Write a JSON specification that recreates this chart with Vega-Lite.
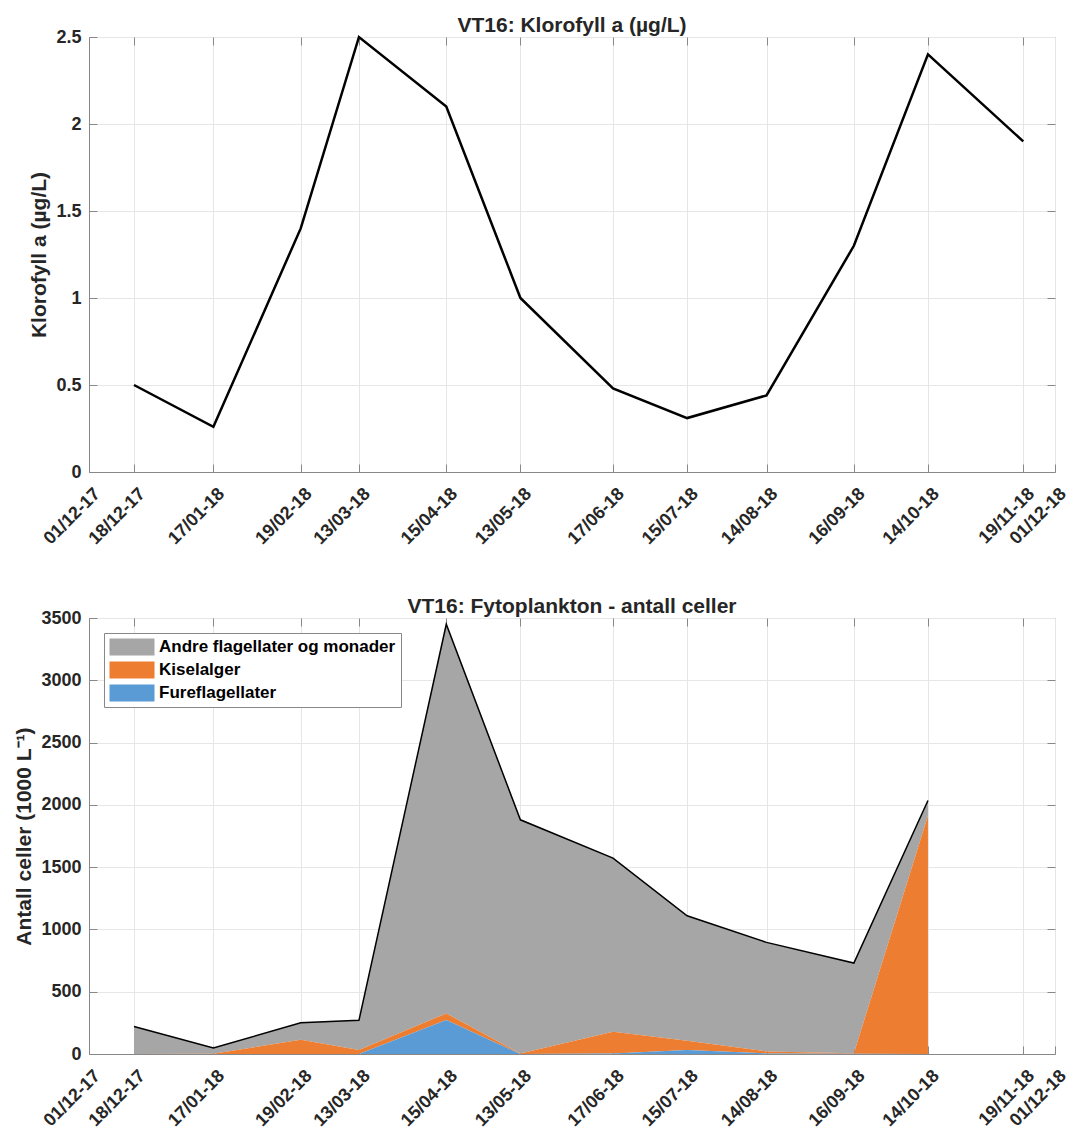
{
  "$schema": "https://vega.github.io/schema/vega-lite/v6.json",
  "background": "white",
  "padding": {"left": 13, "top": 14, "right": 5, "bottom": 5},
  "bounds": "flush",
  "spacing": 146,
  "resolve": {"legend": {"color": "independent"}},
  "config": {
    "font": "Liberation Sans",
    "view": {"stroke": "#888888", "strokeWidth": 1},
    "axis": {
      "labelFont": "Liberation Sans",
      "labelFontSize": 18,
      "labelFontWeight": "bold",
      "labelColor": "#262626",
      "titleFont": "Liberation Sans",
      "titleFontSize": 21,
      "titleFontWeight": "bold",
      "titleColor": "#262626",
      "domainColor": "#888888",
      "tickColor": "#888888",
      "tickSize": -8,
      "gridColor": "#e6e6e6",
      "gridWidth": 1
    },
    "axisY": {"labelPadding": 16, "titlePadding": 6},
    "axisX": {"labelPadding": 27},
    "title": {"font": "Liberation Sans", "fontSize": 21, "fontWeight": "bold", "color": "#262626", "offset": -8}
  },
  "vconcat": [
    {
      "width": 966,
      "height": 435,
      "title": "VT16: Klorofyll a (µg/L)",
      "data": {"values": [
        {"date": "2017-12-18", "value": 0.5},
        {"date": "2018-01-17", "value": 0.26},
        {"date": "2018-02-19", "value": 1.4},
        {"date": "2018-03-13", "value": 2.5},
        {"date": "2018-04-15", "value": 2.1},
        {"date": "2018-05-13", "value": 1.0},
        {"date": "2018-06-17", "value": 0.48},
        {"date": "2018-07-15", "value": 0.31},
        {"date": "2018-08-14", "value": 0.44},
        {"date": "2018-09-16", "value": 1.3},
        {"date": "2018-10-14", "value": 2.4},
        {"date": "2018-11-19", "value": 1.9}
      ]},
      "encoding": {
        "x": {
          "field": "date", "type": "temporal",
          "scale": {"type": "utc", "domain": [{"year": 2017, "month": 12, "date": 1, "utc": true}, {"year": 2018, "month": 12, "date": 1, "utc": true}]},
          "axis": {
            "title": null, "labelExpr": "utcFormat(datum.value, '%d/%m-%y')",
            "labelAngle": -45, "labelAlign": "right", "labelBaseline": "middle", "labelOffset": 8,
            "labelOverlap": false, "labelFlush": false,
            "values": [
              {"year": 2017, "month": 12, "date": 1, "utc": true},
              {"year": 2017, "month": 12, "date": 18, "utc": true},
              {"year": 2018, "month": 1, "date": 17, "utc": true},
              {"year": 2018, "month": 2, "date": 19, "utc": true},
              {"year": 2018, "month": 3, "date": 13, "utc": true},
              {"year": 2018, "month": 4, "date": 15, "utc": true},
              {"year": 2018, "month": 5, "date": 13, "utc": true},
              {"year": 2018, "month": 6, "date": 17, "utc": true},
              {"year": 2018, "month": 7, "date": 15, "utc": true},
              {"year": 2018, "month": 8, "date": 14, "utc": true},
              {"year": 2018, "month": 9, "date": 16, "utc": true},
              {"year": 2018, "month": 10, "date": 14, "utc": true},
              {"year": 2018, "month": 11, "date": 19, "utc": true},
              {"year": 2018, "month": 12, "date": 1, "utc": true}
            ]
          }
        },
        "y": {
          "field": "value", "type": "quantitative",
          "scale": {"domain": [0, 2.5], "nice": false},
          "axis": {"title": "Klorofyll a (µg/L)", "values": [0, 0.5, 1, 1.5, 2, 2.5], "format": "~g"}
        }
      },
      "layer": [
        {"mark": {"type": "line", "color": "black", "strokeWidth": 2.5}},
        {
          "mark": {"type": "line", "opacity": 0},
          "encoding": {
            "x": {
              "field": "date", "type": "temporal",
              "axis": {
                "orient": "top", "title": null, "labels": false, "grid": false, "domain": false,
                "values": [
                  {"year": 2017, "month": 12, "date": 18, "utc": true},
                  {"year": 2018, "month": 1, "date": 17, "utc": true},
                  {"year": 2018, "month": 2, "date": 19, "utc": true},
                  {"year": 2018, "month": 3, "date": 13, "utc": true},
                  {"year": 2018, "month": 4, "date": 15, "utc": true},
                  {"year": 2018, "month": 5, "date": 13, "utc": true},
                  {"year": 2018, "month": 6, "date": 17, "utc": true},
                  {"year": 2018, "month": 7, "date": 15, "utc": true},
                  {"year": 2018, "month": 8, "date": 14, "utc": true},
                  {"year": 2018, "month": 9, "date": 16, "utc": true},
                  {"year": 2018, "month": 10, "date": 14, "utc": true},
                  {"year": 2018, "month": 11, "date": 19, "utc": true}
                ]
              }
            },
            "y": {
              "field": "value", "type": "quantitative",
              "axis": {"orient": "right", "title": null, "labels": false, "grid": false, "domain": false, "values": [0.5, 1, 1.5, 2]}
            }
          }
        }
      ],
      "resolve": {"axis": {"x": "independent", "y": "independent"}}
    },
    {
      "width": 966,
      "height": 436,
      "title": "VT16: Fytoplankton - antall celler",
      "data": {"values": [
        {"date": "2017-12-18", "group": "Andre flagellater og monader", "value": 221},
        {"date": "2017-12-18", "group": "Kiselalger", "value": 0},
        {"date": "2017-12-18", "group": "Fureflagellater", "value": 0},
        {"date": "2018-01-17", "group": "Andre flagellater og monader", "value": 46},
        {"date": "2018-01-17", "group": "Kiselalger", "value": 2},
        {"date": "2018-01-17", "group": "Fureflagellater", "value": 0},
        {"date": "2018-02-19", "group": "Andre flagellater og monader", "value": 135},
        {"date": "2018-02-19", "group": "Kiselalger", "value": 115},
        {"date": "2018-02-19", "group": "Fureflagellater", "value": 0},
        {"date": "2018-03-13", "group": "Andre flagellater og monader", "value": 238},
        {"date": "2018-03-13", "group": "Kiselalger", "value": 32},
        {"date": "2018-03-13", "group": "Fureflagellater", "value": 0},
        {"date": "2018-04-15", "group": "Andre flagellater og monader", "value": 3124},
        {"date": "2018-04-15", "group": "Kiselalger", "value": 53},
        {"date": "2018-04-15", "group": "Fureflagellater", "value": 273},
        {"date": "2018-05-13", "group": "Andre flagellater og monader", "value": 1876},
        {"date": "2018-05-13", "group": "Kiselalger", "value": 4},
        {"date": "2018-05-13", "group": "Fureflagellater", "value": 0},
        {"date": "2018-06-17", "group": "Andre flagellater og monader", "value": 1394},
        {"date": "2018-06-17", "group": "Kiselalger", "value": 174},
        {"date": "2018-06-17", "group": "Fureflagellater", "value": 5},
        {"date": "2018-07-15", "group": "Andre flagellater og monader", "value": 1003},
        {"date": "2018-07-15", "group": "Kiselalger", "value": 75},
        {"date": "2018-07-15", "group": "Fureflagellater", "value": 32},
        {"date": "2018-08-14", "group": "Andre flagellater og monader", "value": 875},
        {"date": "2018-08-14", "group": "Kiselalger", "value": 16},
        {"date": "2018-08-14", "group": "Fureflagellater", "value": 5},
        {"date": "2018-09-16", "group": "Andre flagellater og monader", "value": 724},
        {"date": "2018-09-16", "group": "Kiselalger", "value": 3},
        {"date": "2018-09-16", "group": "Fureflagellater", "value": 3},
        {"date": "2018-10-14", "group": "Andre flagellater og monader", "value": 122},
        {"date": "2018-10-14", "group": "Kiselalger", "value": 1913},
        {"date": "2018-10-14", "group": "Fureflagellater", "value": 0}
      ]},
      "transform": [
        {"calculate": "indexof(['Fureflagellater', 'Kiselalger', 'Andre flagellater og monader'], datum.group)", "as": "stackorder"}
      ],
      "encoding": {
        "x": {
          "field": "date", "type": "temporal",
          "scale": {"type": "utc", "domain": [{"year": 2017, "month": 12, "date": 1, "utc": true}, {"year": 2018, "month": 12, "date": 1, "utc": true}]},
          "axis": {
            "title": null, "labelExpr": "utcFormat(datum.value, '%d/%m-%y')",
            "labelAngle": -45, "labelAlign": "right", "labelBaseline": "middle", "labelOffset": 8,
            "labelOverlap": false, "labelFlush": false,
            "values": [
              {"year": 2017, "month": 12, "date": 1, "utc": true},
              {"year": 2017, "month": 12, "date": 18, "utc": true},
              {"year": 2018, "month": 1, "date": 17, "utc": true},
              {"year": 2018, "month": 2, "date": 19, "utc": true},
              {"year": 2018, "month": 3, "date": 13, "utc": true},
              {"year": 2018, "month": 4, "date": 15, "utc": true},
              {"year": 2018, "month": 5, "date": 13, "utc": true},
              {"year": 2018, "month": 6, "date": 17, "utc": true},
              {"year": 2018, "month": 7, "date": 15, "utc": true},
              {"year": 2018, "month": 8, "date": 14, "utc": true},
              {"year": 2018, "month": 9, "date": 16, "utc": true},
              {"year": 2018, "month": 10, "date": 14, "utc": true},
              {"year": 2018, "month": 11, "date": 19, "utc": true},
              {"year": 2018, "month": 12, "date": 1, "utc": true}
            ]
          }
        }
      },
      "layer": [
        {
          "mark": {"type": "area", "opacity": 1},
          "encoding": {
            "y": {
              "field": "value", "type": "quantitative", "stack": "zero",
              "scale": {"domain": [0, 3500], "nice": false},
              "axis": {"title": "Antall celler (1000 L⁻¹)", "values": [0, 500, 1000, 1500, 2000, 2500, 3000, 3500], "format": "d"}
            },
            "color": {
              "field": "group", "type": "nominal",
              "scale": {"domain": ["Andre flagellater og monader", "Kiselalger", "Fureflagellater"], "range": ["#a6a6a6", "#ed7d31", "#5b9bd5"]},
              "legend": {
                "title": null, "orient": "top-left", "offset": 15,
                "symbolType": "M-2.5,-0.95H2.5V0.95H-2.5Z", "symbolSize": 324, "symbolStrokeWidth": 0, "symbolOpacity": 1,
                "symbolOffset": 14, "labelOffset": 18,
                "labelFont": "Liberation Sans", "labelFontSize": 17, "labelFontWeight": "bold", "labelColor": "#000000",
                "labelLimit": 400,
                "strokeColor": "#888888", "fillColor": "white", "padding": 5, "rowPadding": 5
              }
            },
            "order": {"field": "stackorder", "type": "quantitative"}
          }
        },
        {
          "mark": {"type": "line", "color": "black", "strokeWidth": 1.5},
          "encoding": {
            "x": {"field": "date", "type": "temporal", "axis": null},
            "y": {"aggregate": "sum", "field": "value", "type": "quantitative", "axis": null}
          }
        },
        {
          "mark": {"type": "line", "opacity": 0},
          "encoding": {
            "x": {
              "field": "date", "type": "temporal",
              "axis": {
                "orient": "top", "title": null, "labels": false, "grid": false, "domain": false,
                "values": [
                  {"year": 2017, "month": 12, "date": 18, "utc": true},
                  {"year": 2018, "month": 1, "date": 17, "utc": true},
                  {"year": 2018, "month": 2, "date": 19, "utc": true},
                  {"year": 2018, "month": 3, "date": 13, "utc": true},
                  {"year": 2018, "month": 4, "date": 15, "utc": true},
                  {"year": 2018, "month": 5, "date": 13, "utc": true},
                  {"year": 2018, "month": 6, "date": 17, "utc": true},
                  {"year": 2018, "month": 7, "date": 15, "utc": true},
                  {"year": 2018, "month": 8, "date": 14, "utc": true},
                  {"year": 2018, "month": 9, "date": 16, "utc": true},
                  {"year": 2018, "month": 10, "date": 14, "utc": true},
                  {"year": 2018, "month": 11, "date": 19, "utc": true}
                ]
              }
            },
            "y": {
              "aggregate": "sum", "field": "value", "type": "quantitative",
              "axis": {"orient": "right", "title": null, "labels": false, "grid": false, "domain": false, "values": [500, 1000, 1500, 2000, 2500, 3000]}
            }
          }
        }
      ],
      "resolve": {"axis": {"x": "independent", "y": "independent"}}
    }
  ]
}
